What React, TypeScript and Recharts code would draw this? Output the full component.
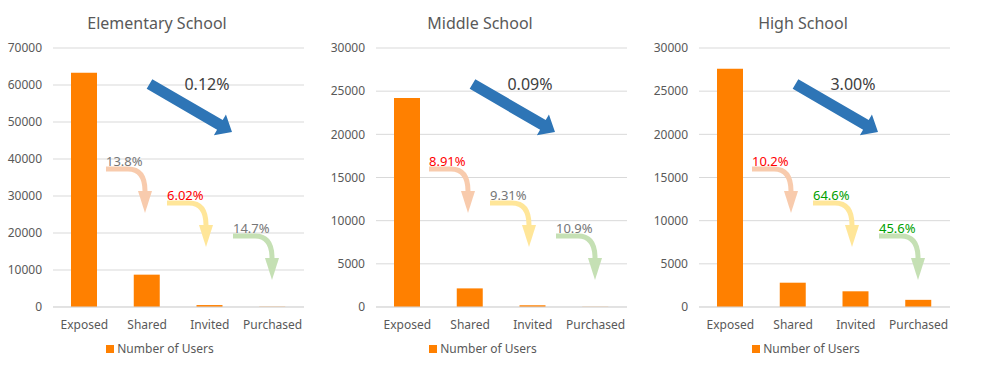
import React from 'react';
import { BarChart, Bar, XAxis, YAxis, CartesianGrid } from 'recharts';

const categories = ['Exposed', 'Shared', 'Invited', 'Purchased'];

const elementaryUsers = [63300, 8740, 526, 77];
const middleUsers = [24200, 2156, 201, 22];
const highUsers = [27600, 2815, 1819, 829];

const elementaryTicks = [0, 10000, 20000, 30000, 40000, 50000, 60000, 70000];
const secondaryTicks = [0, 5000, 10000, 15000, 20000, 25000, 30000];

const elementaryRates = ['13.8%', '6.02%', '14.7%'];
const middleRates = ['8.91%', '9.31%', '10.9%'];
const highRates = ['10.2%', '64.6%', '45.6%'];

const elementaryRateColors = ['#767676', '#FF0000', '#767676'];
const middleRateColors = ['#FF0000', '#767676', '#767676'];
const highRateColors = ['#FF0000', '#00A000', '#00A000'];

const overallRates = ['0.12%', '0.09%', '3.00%'];

const FONT = "'Noto Sans', sans-serif";
const TEXT = '#595959';
const GRID = '#D9D9D9';
const BAR = '#FF8000';
const PANEL_W = 323;
const arrowColors = ['#F8CBAD', '#FFE699', '#C5E0B4'];

// start points of the little curved step arrows (panel pixels)
const stepArrows = [
  { x: 106, y: 169 },
  { x: 167, y: 203 },
  { x: 233, y: 236 },
];

const BigArrow = () => {
  const sx = 149.5, sy = 84, ex = 232, ey = 132;
  const dx = ex - sx, dy = ey - sy;
  const len = Math.sqrt(dx * dx + dy * dy);
  const ux = dx / len, uy = dy / len;
  const nx = -uy, ny = ux;
  const sw = 5.6, hw = 12, hl = 14;
  const bx = ex - ux * hl, by = ey - uy * hl;
  const pts = [
    [sx + nx * sw, sy + ny * sw],
    [bx + nx * sw, by + ny * sw],
    [bx + nx * hw, by + ny * hw],
    [ex, ey],
    [bx - nx * hw, by - ny * hw],
    [bx - nx * sw, by - ny * sw],
    [sx - nx * sw, sy - ny * sw],
  ];
  return <polygon points={pts.map(p => p.join(',')).join(' ')} fill="#2E75B6" />;
};

interface PanelProps {
  title: string;
  values: number[];
  ticks: number[];
  rates: string[];
  rateColors: string[];
  overall: string;
  left: number;
}

const Panel: React.FC<PanelProps> = ({ title, values, ticks, rates, rateColors, overall, left }) => {
  const data = categories.map((c, i) => ({ name: c, users: values[i] }));
  return (
    <div style={{ position: 'absolute', left, top: 0, width: PANEL_W, height: 367 }}>
      <div style={{ position: 'absolute', left: 0, width: 314, top: 12, textAlign: 'center', fontSize: 16, color: TEXT, fontFamily: FONT }}>
        {title}
      </div>
      <BarChart width={PANEL_W} height={367} data={data} margin={{ top: 48, right: 19, left: 0, bottom: 30 }} barSize={26}>
        <CartesianGrid vertical={false} stroke={GRID} />
        <XAxis dataKey="name" height={30} stroke={GRID} tickLine={false} tickSize={0} tickMargin={13}
          tick={{ fill: TEXT, fontSize: 12, fontFamily: FONT }} />
        <YAxis width={53} domain={[0, ticks[ticks.length - 1]]} ticks={ticks} axisLine={false} tickLine={false}
          tickSize={0} tickMargin={11} interval={0} tick={{ fill: TEXT, fontSize: 12, fontFamily: FONT }} />
        <Bar dataKey="users" fill={BAR} isAnimationActive={false} />
      </BarChart>
      <svg width={PANEL_W} height={367} style={{ position: 'absolute', left: 0, top: 0, pointerEvents: 'none' }}>
        <BigArrow />
        <text x={207} y={84} textAnchor="middle" dominantBaseline="central" fontSize={16} fill="#404040" fontFamily={FONT}>
          {overall}
        </text>
        {stepArrows.map((a, i) => (
          <g key={i}>
            <path d={`M ${a.x} ${a.y} H ${a.x + 22} Q ${a.x + 39} ${a.y} ${a.x + 39} ${a.y + 22}`}
              stroke={arrowColors[i]} strokeWidth={5} fill="none" />
            <polygon points={`${a.x + 32},${a.y + 22} ${a.x + 46},${a.y + 22} ${a.x + 39},${a.y + 44}`} fill={arrowColors[i]} />
            <text x={a.x} y={a.y - 8} dominantBaseline="central" fontSize={13} fill={rateColors[i]} fontFamily={FONT}>
              {rates[i]}
            </text>
          </g>
        ))}
      </svg>
      <div style={{ position: 'absolute', left: 0, width: 320, top: 340, display: 'flex', justifyContent: 'center', alignItems: 'center', fontSize: 12, color: TEXT, fontFamily: FONT }}>
        <span style={{ width: 8, height: 8, background: BAR, display: 'inline-block', marginRight: 3 }} />
        <span>Number of Users</span>
      </div>
    </div>
  );
};

export default function App() {
  return (
    <div style={{ position: 'absolute', left: 0, top: 0, width: 981, height: 367, background: '#fff', overflow: 'hidden' }}>
      <Panel title="Elementary School" values={elementaryUsers} ticks={elementaryTicks} rates={elementaryRates}
        rateColors={elementaryRateColors} overall={overallRates[0]} left={0} />
      <Panel title="Middle School" values={middleUsers} ticks={secondaryTicks} rates={middleRates}
        rateColors={middleRateColors} overall={overallRates[1]} left={PANEL_W} />
      <Panel title="High School" values={highUsers} ticks={secondaryTicks} rates={highRates}
        rateColors={highRateColors} overall={overallRates[2]} left={PANEL_W * 2} />
    </div>
  );
}
